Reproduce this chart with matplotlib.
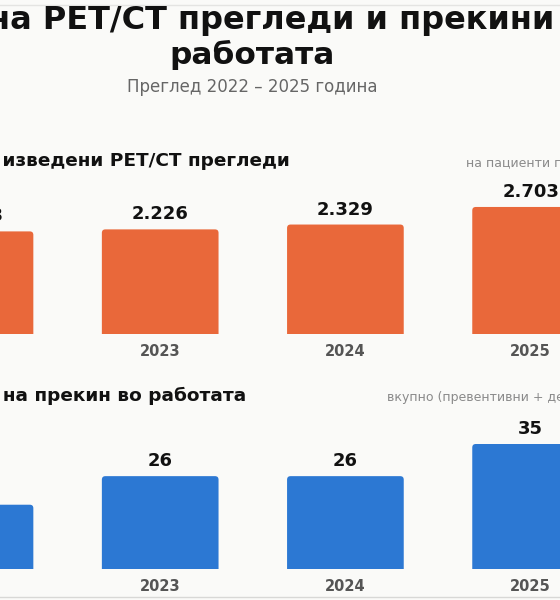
import matplotlib
matplotlib.use("Agg")
import matplotlib.pyplot as plt
from matplotlib.patches import FancyBboxPatch

# data
years = ["2022", "2023", "2024", "2025"]
exams = [2183, 2226, 2329, 2703]      # изведени PET/CT прегледи
outages = [18, 26, 26, 35]            # прекини во работата

title_1 = "на PET/CT прегледи и прекини"
title_2 = "работата"
subtitle = "Преглед 2022 – 2025 година"
sec1_title = "Број на изведени PET/CT прегледи"
sec1_note = "на пациенти по година"
sec2_title = "Број на прекин во работата"
sec2_note = "вкупно (превентивни + дефекти)"

bg = "#FAFAF8"
orange = "#E9683A"
blue = "#2C78D3"

W, H = 560, 600
fig = plt.figure(figsize=(W / 100, H / 100), dpi=100, facecolor=bg)


def fx(x):
    return x / W


def fy(y):
    return 1 - y / H


# card edges
fig.add_artist(plt.Line2D([0, 1], [fy(5), fy(5)], color="#E4E4E2", lw=1))
fig.add_artist(plt.Line2D([0, 1], [fy(597), fy(597)], color="#D8D8D6", lw=1))

# header
fig.text(fx(554), fy(29), title_1, ha="right", va="baseline",
         fontsize=23, fontweight="bold", color="#111111")
fig.text(fx(252), fy(64), title_2, ha="center", va="baseline",
         fontsize=22.5, fontweight="bold", color="#111111")
fig.text(fx(252), fy(92), subtitle, ha="center", va="baseline",
         fontsize=12, color="#666666")

step = 185.2          # px between bar centres
left_px = -25 - step / 2


def panel(bottom_px, values, color, title, note, title_end, title_base, note_x, px_per_unit):
    h_px = 150
    ax = fig.add_axes([fx(left_px), (H - bottom_px) / H, 4 * step / W, h_px / H])
    ax.set_facecolor("none")
    ax.set_xlim(-0.5, 3.5)
    ax.set_ylim(0, h_px / px_per_unit)
    bars = ax.bar(range(len(values)), values, width=0.63, color=color)
    # rounded tops
    rx = 3.5 / step
    aspect = step / px_per_unit
    for b in bars:
        b.set_visible(False)
        x0, w, hgt = b.get_x(), b.get_width(), b.get_height()
        ax.add_patch(FancyBboxPatch((x0, -rx * aspect), w, hgt + rx * aspect,
                                    boxstyle=f"round,pad=0,rounding_size={rx}",
                                    mutation_aspect=aspect, fc=color, ec="none"))
    for i, v in enumerate(values):
        ax.annotate(f"{v:,}".replace(",", "."), (i, v), xytext=(0, 10),
                    textcoords="offset pixels", ha="center", va="baseline",
                    fontsize=13, fontweight="bold", color="#111111")
    ax.set_xticks(range(len(years)))
    ax.set_xticklabels(years, fontsize=10.5, fontweight="bold", color="#555555")
    ax.tick_params(axis="x", length=0, pad=7.5)
    ax.set_yticks([])
    for s in ax.spines.values():
        s.set_visible(False)
    fig.text(fx(title_end), fy(title_base), title, ha="right", va="baseline",
             fontsize=13.3, fontweight="bold", color="#111111")
    fig.text(fx(note_x), fy(title_base), note, ha="left", va="baseline",
             fontsize=9, color="#8A8A8A")
    return ax


panel(334, exams, orange, sec1_title, sec1_note, 289.5, 166, 466, 0.0470)
panel(569, outages, blue, sec2_title, sec2_note, 246.5, 401, 387, 125 / 35)

fig.savefig("out.png", dpi=100, facecolor=bg)
